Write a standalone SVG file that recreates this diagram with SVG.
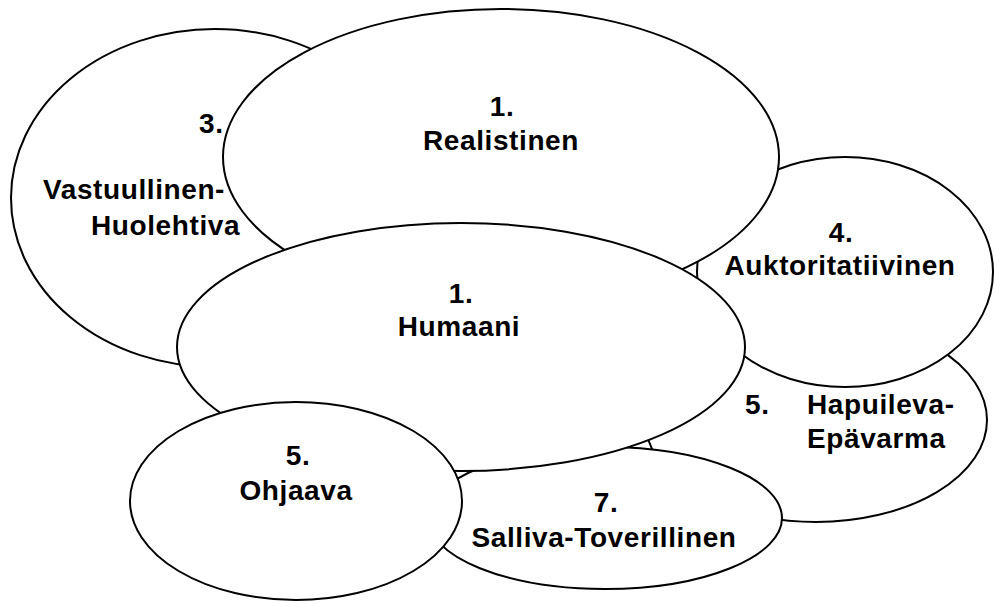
<svg xmlns="http://www.w3.org/2000/svg" width="994" height="604" viewBox="0 0 994 604">
<style>
.e{fill:#fff;stroke:#000;stroke-width:2}
.t{font-family:"Liberation Sans",Arial,sans-serif;font-weight:bold;font-size:28px;fill:#000;letter-spacing:0.6px}
.m{text-anchor:middle}
</style>
<rect width="994" height="604" fill="#fff"/>
<g id="connectors"/>
<g id="vastuullinen">
<ellipse class="e" cx="215" cy="198" rx="204" ry="169"/>
<text class="t" x="199" y="133">3.</text>
<text class="t" x="43" y="199">Vastuullinen-</text>
<text class="t" x="91" y="235">Huolehtiva</text>
</g>
<g id="hapuileva">
<ellipse class="e" cx="816" cy="420" rx="171" ry="102"/>
<text class="t" x="745" y="414">5.</text>
<text class="t" x="807" y="414">Hapuileva-</text>
<text class="t" x="807" y="448">Epävarma</text>
</g>
<g id="auktoritatiivinen">
<ellipse class="e" cx="845" cy="272" rx="148" ry="115"/>
<text class="t m" x="841" y="242">4.</text>
<text class="t m" x="840" y="275">Auktoritatiivinen</text>
</g>
<g id="realistinen">
<ellipse class="e" cx="501" cy="157" rx="278" ry="148"/>
<text class="t m" x="502" y="116">1.</text>
<text class="t m" x="501" y="150">Realistinen</text>
</g>
<g id="salliva">
<ellipse class="e" cx="605" cy="518" rx="177" ry="71"/>
<text class="t m" x="606" y="512">7.</text>
<text class="t m" x="604" y="547">Salliva-Toverillinen</text>
</g>
<g id="humaani">
<ellipse class="e" cx="461" cy="347" rx="284" ry="124"/>
<text class="t m" x="461" y="303">1.</text>
<text class="t m" x="459" y="336">Humaani</text>
</g>
<g id="ohjaava">
<ellipse class="e" cx="296" cy="501" rx="166" ry="99"/>
<text class="t m" x="298" y="465">5.</text>
<text class="t m" x="296" y="500">Ohjaava</text>
</g>
</svg>
